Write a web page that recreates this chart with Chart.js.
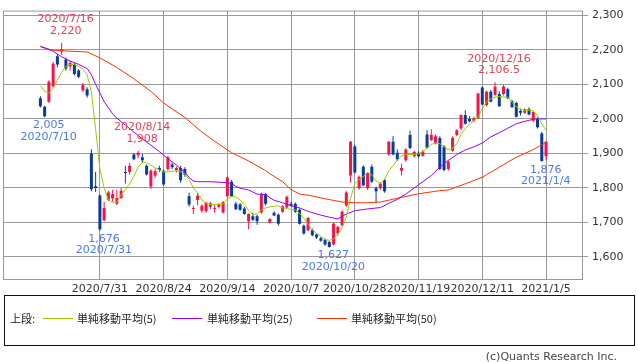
<!DOCTYPE html>
<html>
<head>
<meta charset="utf-8">
<script src="https://cdn.jsdelivr.net/npm/chart.js@4.4.1/dist/chart.umd.min.js"></script>
<style>
  body { margin: 0; background: #fff; width: 638px; height: 362px; position: relative; overflow: hidden; font-family: 'DejaVu Sans', sans-serif; }
  #chart { position: absolute; left: 0; top: 0; }
  .box { position: absolute; left: 4px; top: 295px; width: 629px; height: 49px; border: 1px solid #111; }
  .lg { position: absolute; top: 311px; font: 11px 'Noto Sans CJK JP', sans-serif; color: #222; line-height: 14px; white-space: nowrap; }
  .sw { position: absolute; top: 318px; height: 1px; width: 30px; }
  .copy { position: absolute; right: 21px; top: 350px; font: 11px 'DejaVu Sans', sans-serif; color: #444; }
</style>
</head>
<body>
<canvas id="chart" width="638" height="298"></canvas>
<div class="box"></div>
<span class="lg" style="left:10px">上段:</span>
<span class="sw" style="left:43px;background:#99cc00"></span>
<span class="lg" style="left:77px">単純移動平均(5)</span>
<span class="sw" style="left:172px;background:#9900ff"></span>
<span class="lg" style="left:207px">単純移動平均(25)</span>
<span class="sw" style="left:317px;background:#ff3300"></span>
<span class="lg" style="left:351px">単純移動平均(50)</span>
<div class="copy">(c)Quants Research Inc.</div>
<script>
// trading days shown
const dates = [
  '2020/7/9','2020/7/10','2020/7/13','2020/7/14','2020/7/15','2020/7/16','2020/7/17','2020/7/20','2020/7/21','2020/7/22',
  '2020/7/27','2020/7/28','2020/7/29','2020/7/30','2020/7/31',
  '2020/8/3','2020/8/4','2020/8/5','2020/8/6','2020/8/7','2020/8/11','2020/8/12','2020/8/13','2020/8/14','2020/8/17',
  '2020/8/18','2020/8/19','2020/8/20','2020/8/21','2020/8/24','2020/8/25','2020/8/26','2020/8/27','2020/8/28','2020/8/31',
  '2020/9/1','2020/9/2','2020/9/3','2020/9/4','2020/9/7','2020/9/8','2020/9/9','2020/9/10','2020/9/11','2020/9/14',
  '2020/9/15','2020/9/16','2020/9/17','2020/9/18','2020/9/23','2020/9/24','2020/9/25','2020/9/28','2020/9/29','2020/9/30',
  '2020/10/1','2020/10/2','2020/10/5','2020/10/6','2020/10/7','2020/10/8','2020/10/9','2020/10/12','2020/10/13','2020/10/14',
  '2020/10/15','2020/10/16','2020/10/19','2020/10/20','2020/10/21','2020/10/22','2020/10/23','2020/10/26','2020/10/27','2020/10/28',
  '2020/10/29','2020/10/30','2020/11/2','2020/11/4','2020/11/5','2020/11/6','2020/11/9','2020/11/10','2020/11/11','2020/11/12',
  '2020/11/13','2020/11/16','2020/11/17','2020/11/18','2020/11/19','2020/11/20','2020/11/24','2020/11/25','2020/11/26','2020/11/27',
  '2020/11/30','2020/12/1','2020/12/2','2020/12/3','2020/12/4','2020/12/7','2020/12/8','2020/12/9','2020/12/10','2020/12/11',
  '2020/12/14','2020/12/15','2020/12/16','2020/12/17','2020/12/18','2020/12/21','2020/12/22','2020/12/23','2020/12/24','2020/12/25',
  '2020/12/28','2020/12/29','2020/12/30','2021/1/4','2021/1/5'
];

const open = [
  2060,2035,2050,2095,2182,2196,2172,2152,2158,2140, 2083,2086,1900,1805,1778,
  1706,1766,1769,1754,1771,1846,1846,1897,1895,1889, 1864,1804,1836,1858,1850,1855,1868,1852,1858,1855,
  1776,1739,1765,1734,1732,1745,1739,1745,1729,1776, 1818,1754,1752,1740,1703,1718,1718,1729,1782,1700,
  1728,1722,1731,1743,1754,1754,1737,1690,1677,1677, 1665,1654,1650,1643,1636,1668,1692,1749,1836,1920,
  1799,1861,1799,1861,1799,1799,1822,1897,1934,1902, 1850,1880,1953,1892,1902,1893,1955,1939,1930,1945,
  1920,1855,1908,1953,1972,2011,2000,1995,2002,2091, 2040,2079,2070,2072,2072,2086,2051,2046,2023,2018,
  2028,1995,2000,1958,1892
];
const high = [
  2066,2038,2112,2166,2188,2220,2178,2168,2162,2144, 2104,2092,1912,1846,1781,
  1760,1792,1795,1795,1800,1864,1872,1901,1908,1898, 1868,1855,1856,1864,1853,1893,1873,1862,1864,1860,
  1786,1748,1785,1752,1760,1760,1750,1756,1762,1834, 1823,1760,1756,1745,1726,1728,1722,1787,1786,1712,
  1732,1726,1750,1778,1760,1758,1740,1694,1716,1682, 1668,1658,1653,1646,1700,1690,1735,1790,1936,1925,
  1836,1866,1846,1868,1803,1816,1826,1936,1950,1912, 1870,1915,1966,1908,1906,1910,1968,1970,1955,1950,
  1924,1880,1950,1970,2013,2025,2008,2006,2076,2094, 2082,2084,2106.5,2080,2098,2090,2055,2050,2030,2030,
  2034,2022,2005,1962,1936
];
const low = [
  2033,2005,2046,2090,2150,2185,2140,2140,2126,2118, 2078,2062,1790,1788,1676,
  1703,1762,1760,1750,1768,1813,1838,1880,1886,1872, 1836,1797,1828,1846,1806,1850,1855,1845,1815,1832,
  1745,1724,1750,1728,1728,1738,1728,1740,1726,1772, 1774,1736,1734,1722,1680,1704,1693,1725,1750,1697,
  1718,1690,1728,1740,1746,1728,1694,1665,1674,1660, 1652,1644,1632,1627,1633,1662,1688,1745,1815,1842,
  1795,1805,1795,1815,1757,1795,1786,1893,1895,1878, 1836,1876,1912,1888,1888,1890,1914,1935,1926,1852,
  1848,1850,1905,1950,1968,1984,1990,1990,2000,2040, 2036,2048,2066,2035,2068,2058,2032,2004,2010,2014,
  2010,1990,1972,1876,1880
];
const close = [
  2037,2008,2108,2160,2158,2202,2146,2163,2130,2122, 2098,2068,1796,1800,1680,
  1742,1787,1782,1771,1792,1843,1864,1883,1902,1880, 1839,1850,1848,1852,1810,1889,1860,1858,1822,1838,
  1752,1741,1777,1748,1757,1755,1741,1752,1759,1830, 1776,1738,1737,1724,1724,1708,1703,1783,1754,1710,
  1720,1696,1747,1774,1748,1731,1696,1668,1713,1663, 1656,1647,1636,1629,1696,1687,1731,1787,1934,1845,
  1832,1808,1843,1818,1790,1813,1790,1934,1897,1883, 1858,1911,1916,1904,1892,1905,1917,1953,1950,1855,
  1852,1876,1945,1967,2011,1986,1993,2002,2074,2042, 2079,2050,2093,2037,2094,2060,2034,2006,2018,2028,
  2013,2020,1976,1878,1934
];

// moving averages
const ma5 = [
  2096,2080,2075,2088,2112,2135,2152,2158,2158,2152, 2144,2128,2078,1970,1855,
  1800,1765,1758,1760,1780,1795,1812,1834,1860,1874, 1873,1866,1858,1852,1846,1846,1848,1850,1848,1840,
  1825,1800,1785,1765,1755,1752,1752,1752,1753,1768, 1775,1774,1765,1752,1735,1722,1725,1736,1742,1745,
  1747,1748,1742,1740,1738,1736,1726,1712,1695,1678, 1668,1660,1650,1648,1652,1665,1685,1715,1770,1812,
  1825,1833,1845,1838,1820,1813,1825,1850,1865,1880, 1893,1897,1897,1897,1899,1905,1915,1926,1930,1928,
  1920,1910,1915,1928,1955,1972,1985,1995,2005,2030, 2050,2058,2063,2065,2064,2063,2048,2035,2027,2025,
  2025,2023,2010,1986,1967
];
const ma25 = [
  [0,2211],[3,2196],[5,2180],[7,2168],[9,2158],[11,2146],[12,2128],[13,2100],[14,2075],[15,2050],
  [17,2015],[18,2002],[20,1982],[22,1962],[24,1942],[26,1924],[28,1905],[30,1885],[32,1866],[34,1845],
  [35,1830],[36,1820],[37,1818],[40,1818],[44,1815],[45,1813],[46,1804],[47,1799],[49,1794],[51,1782],
  [53,1780],[55,1764],[57,1757],[59,1748],[61,1742],[63,1732],[66,1721],[68,1715],[70,1710],[72,1724],
  [74,1734],[77,1739],[80,1743],[82,1755],[84,1767],[86,1782],[88,1800],[90,1818],[92,1836],[94,1860],
  [96,1880],[98,1897],[100,1910],[102,1919],[104,1930],[106,1948],[108,1960],[110,1973],[112,1986],[114,1993],
  [116,1999],[117,2000],[119,2000]
];
const ma50 = [
  [0,2209],[3,2199],[6,2197],[11,2194],[14,2177],[18,2149],[22,2116],[26,2080],[29,2046],[34,2004],
  [38,1962],[41,1935],[45,1902],[49,1878],[53,1850],[54,1841],[57,1818],[59,1795],[61,1782],[63,1779],
  [66,1771],[71,1759],[74,1757],[77,1757],[80,1759],[84,1770],[89,1783],[94,1792],[96,1794],[100,1812],
  [104,1831],[108,1860],[112,1889],[116,1911],[119,1932]
];

const tickDates = ['2020/7/31','2020/8/24','2020/9/14','2020/10/7','2020/10/28','2020/11/19','2020/12/11','2021/1/5'];
const priceTicks = [1600, 1700, 1800, 1900, 2000, 2100, 2200, 2300];

// marked highs / lows
const highMarks = ['2020/7/16', '2020/8/14', '2020/12/16'];
const lowMarks = ['2020/7/10', '2020/7/31', '2020/10/20', '2021/1/4'];

const UP = '#f5134a', DOWN = '#0a3a9a';
const GRID = '#999999';

const tickIdx = tickDates.map(d => dates.indexOf(d));
const colors = dates.map((d, i) => close[i] >= open[i] ? UP : DOWN);
const fmt = v => v.toLocaleString('en-US');

const frame = {
  id: 'frame',
  beforeDatasetsDraw(chart) {
    const { ctx, chartArea: a } = chart;
    ctx.save();
    ctx.strokeStyle = GRID;
    ctx.lineWidth = 1;
    ctx.strokeRect(a.left + 0.5, a.top + 0.5, a.right - a.left - 1, a.bottom - a.top - 1);
    ctx.restore();
  }
};

const marks = {
  id: 'marks',
  afterDatasetsDraw(chart) {
    const { ctx, scales: { x, y } } = chart;
    ctx.save();
    ctx.font = '11px "DejaVu Sans"';
    ctx.textAlign = 'center';
    ctx.textBaseline = 'middle';
    ctx.fillStyle = '#dd4455';
    highMarks.forEach(d => {
      const i = dates.indexOf(d);
      const px = x.getPixelForValue(i) + 4, py = y.getPixelForValue(high[i]);
      ctx.fillText(fmt(high[i]), px, py - 12);
      ctx.fillText(d, px, py - 23.5);
    });
    ctx.fillStyle = '#4a7be8';
    lowMarks.forEach(d => {
      const i = dates.indexOf(d);
      const px = x.getPixelForValue(i) + 4, py = y.getPixelForValue(low[i]);
      ctx.fillText(fmt(low[i]), px, py + 8);
      ctx.fillText(d, px, py + 19.5);
    });
    ctx.restore();
  }
};

const lineDs = (label, pts, color) => ({
  type: 'line', label, data: pts, borderColor: color, borderWidth: 1,
  pointRadius: 0, tension: 0, order: 0
});

new Chart(document.getElementById('chart'), {
  type: 'bar',
  data: {
    datasets: [
      lineDs('単純移動平均(5)', ma5.map((v, i) => ({ x: i, y: v })), '#99cc00'),
      lineDs('単純移動平均(25)', ma25.map(([i, v]) => ({ x: i, y: v })), '#9900ff'),
      lineDs('単純移動平均(50)', ma50.map(([i, v]) => ({ x: i, y: v })), '#ff3300'),
      {
        label: 'body', data: dates.map((d, i) => ({ x: i, y: [open[i], close[i]] })),
        backgroundColor: colors, grouped: false, maxBarThickness: 3, minBarLength: 1, order: 1
      },
      {
        label: 'wick', data: dates.map((d, i) => ({ x: i, y: [low[i], high[i]] })),
        backgroundColor: colors, grouped: false, maxBarThickness: 1, order: 2
      }
    ]
  },
  options: {
    responsive: false,
    animation: false,
    events: [],
    layout: { padding: { left: 3, top: 1, right: 0, bottom: 0 } },
    plugins: { legend: { display: false }, tooltip: { enabled: false } },
    scales: {
      x: {
        type: 'linear', min: -8.8, max: 127.7, offset: false,
        afterBuildTicks: s => { s.ticks = tickIdx.map(v => ({ value: v })); },
        afterFit: s => { s.height = 18; },
        grid: { color: GRID, drawTicks: false, offset: false },
        border: { display: false },
        ticks: {
          autoSkip: false, maxRotation: 0, padding: 3, color: '#333',
          font: { family: 'DejaVu Sans', size: 11 },
          callback: v => dates[v]
        }
      },
      y: {
        position: 'right', min: 1533, max: 2314,
        afterBuildTicks: s => { s.ticks = priceTicks.map(v => ({ value: v })); },
        afterFit: s => { s.width = 55; },
        grid: { color: GRID, tickLength: 5 },
        border: { display: false },
        ticks: {
          padding: 4, color: '#333',
          font: { family: 'DejaVu Sans', size: 11 },
          callback: v => fmt(v)
        }
      }
    }
  },
  plugins: [frame, marks]
});
</script>
</body>
</html>
